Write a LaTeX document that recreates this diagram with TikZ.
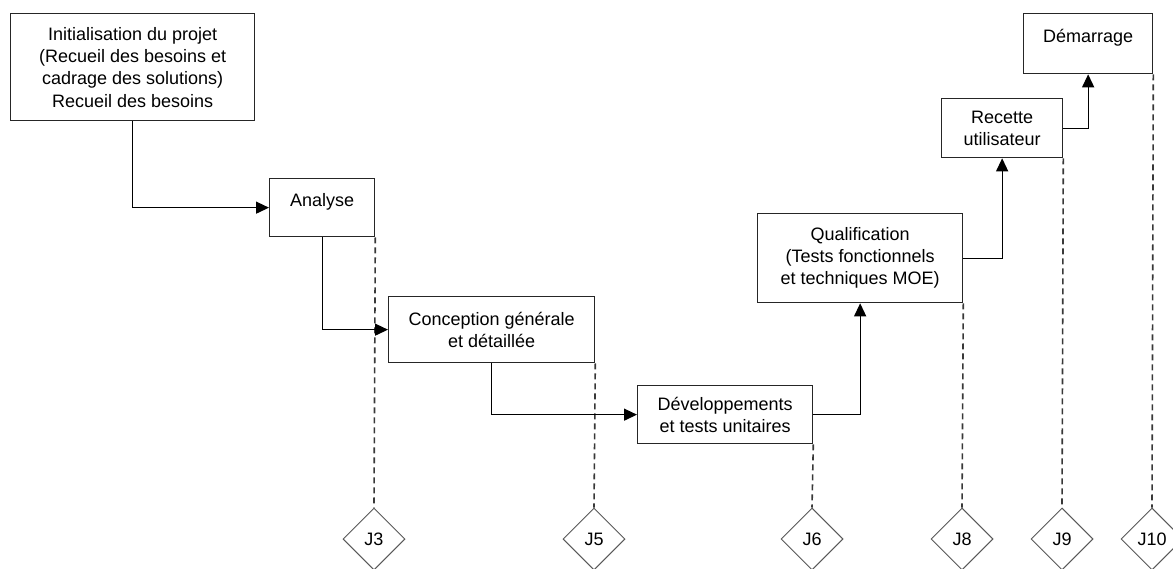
\documentclass[tikz,border=0pt]{standalone}
\usepackage{fontspec}
\setmainfont{Liberation Sans}
\usetikzlibrary{arrows.meta,shapes.geometric}

\begin{document}
\begin{tikzpicture}[x=1pt,y=-1pt,
	phase/.style={draw=black!85, line width=1.3pt, fill=white, inner sep=0pt,
		anchor=north west, align=center, font=\fontsize{18}{22}\selectfont},
	haut/.style={text depth=15pt},
	link/.style={draw=black, line width=1.3pt, -{Triangle[length=13pt,width=12pt]}},
	repere/.style={draw=black!78, line width=1.6pt, dash pattern=on 6pt off 4pt},
	jalon/.style={draw=black!65, line width=1pt, shape=diamond, fill=white,
		minimum width=62pt, minimum height=62pt, inner sep=0pt,
		font=\fontsize{18}{22}\selectfont}]
\useasboundingbox (0,0) rectangle (1173,568);

% phases
\node [phase, minimum width=244pt, minimum height=107pt] (init) at (10,13)
	{Initialisation du projet\\(Recueil des besoins et\\cadrage des solutions)\\[1pt]Recueil des besoins};
\node [phase, haut, minimum width=105pt, minimum height=58pt] (ana) at (269,178) {Analyse};
\node [phase, minimum width=206pt, minimum height=66pt] (conc) at (388,296)
	{Conception générale\\et détaillée};
\node [phase, minimum width=175pt, minimum height=58pt] (dev) at (637,385)
	{Développements\\et tests unitaires};
\node [phase, minimum width=205pt, minimum height=89pt] (qual) at (757,213)
	{Qualification\\(Tests fonctionnels\\et techniques MOE)};
\node [phase, minimum width=121pt, minimum height=59pt] (rec) at (941,98)
	{Recette\\utilisateur};
\node [phase, haut, minimum width=129pt, minimum height=60pt] (dem) at (1023,13) {Démarrage};

% jalons
\foreach \p/\x/\j in {ana/374/J3, conc/594/J5, dev/812/J6, qual/962/J8, rec/1062/J9, dem/1152/J10}
{
	\node [jalon] (j\j) at (\x,539) {\j};
	\draw [repere] (\p.south east) -- (j\j.north);
}

% enchainement
\draw [link] (init.south) |- (ana.west);
\draw [link] (ana.south) |- (conc.west);
\draw [link] (conc.south) |- (dev.west);
\draw [link] (dev.east) -| (qual.south);
\draw [link] (qual.east) -| (rec.south);
\draw [link] (rec.east) -| (dem.south);
\end{tikzpicture}
\end{document}
